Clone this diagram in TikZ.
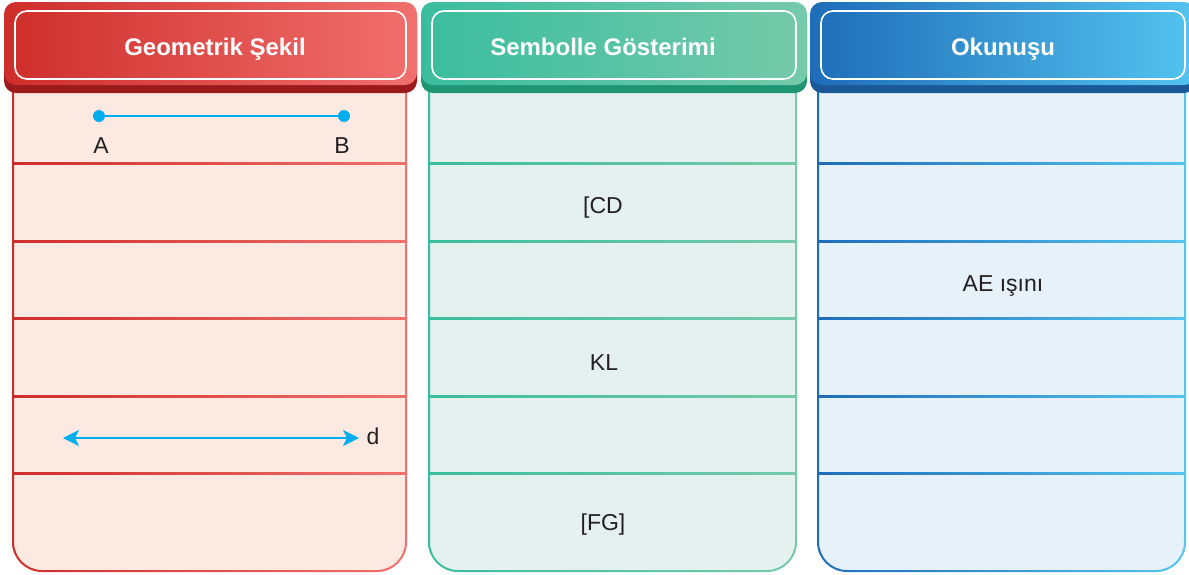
\documentclass[tikz,border=0pt]{standalone}
\usepackage{fontspec}
\setmainfont{Liberation Sans}
\usetikzlibrary{arrows.meta}

\definecolor{kirmiziA}{RGB}{206,46,42}
\definecolor{kirmiziB}{RGB}{241,112,110}
\definecolor{kirmiziG}{RGB}{155,26,28}
\definecolor{kirmiziZ}{RGB}{252,234,226}
\definecolor{yesilA}{RGB}{58,189,158}
\definecolor{yesilB}{RGB}{118,202,170}
\definecolor{yesilG}{RGB}{30,150,116}
\definecolor{yesilZ}{RGB}{228,241,238}
\definecolor{maviA}{RGB}{30,108,184}
\definecolor{maviB}{RGB}{84,196,240}
\definecolor{maviG}{RGB}{26,88,152}
\definecolor{maviZ}{RGB}{231,241,250}
\definecolor{cizgi}{RGB}{0,174,239}
\definecolor{yazi}{RGB}{35,31,32}

\begin{document}
\begin{tikzpicture}[x=0.5pt,y=-0.5pt,
  baslik/.style={text=white,font=\bfseries\fontsize{12}{14}\selectfont,anchor=base},
  metin/.style={text=yazi,font=\fontsize{11.5}{13}\selectfont},
  nokta/.style={circle,fill=cizgi,inner sep=0pt,minimum size=6pt},
  dogru/.style={cizgi,line width=1pt}]
\useasboundingbox (0,0) rectangle (1189,574);
\foreach \hl/\hr/\bl/\br/\tx/\ca/\cb/\cg/\cz/\ad [count=\i] in
  {4/417/12/407/215/kirmiziA/kirmiziB/kirmiziG/kirmiziZ/{Geometrik Şekil},
   421/807/428/797/603/yesilA/yesilB/yesilG/yesilZ/{Sembolle Gösterimi},
   810/1196/817/1186/1003/maviA/maviB/maviG/maviZ/{Okunuşu}}
{
  % govde
  \fill[\cz,rounded corners=14pt] (\bl+2,40) rectangle (\br-2,570);
  \shade[even odd rule,left color=\ca,right color=\cb,rounded corners=15pt]
    (\bl,40) rectangle (\br,572) [rounded corners=14pt] (\bl+2,40) rectangle (\br-2,570);
  \foreach \y in {163,241,318,396,473}
    \shade[left color=\ca,right color=\cb] (\bl,\y-1) rectangle (\br,\y+1);
  % baslik
  \fill[\cg,rounded corners=6pt] (\hl,12) rectangle (\hr,93);
  \shade[left color=\ca,right color=\cb,rounded corners=6pt] (\hl,2) rectangle (\hr,85);
  \draw[white,line width=0.8pt,rounded corners=6pt] (\hl+11,11) rectangle (\hr-11,79);
  \node[baslik] (baslik\i) at (\tx,55) {\ad};
}

% AB dogru parcasi
\node[nokta] (A) at (99,116) {};
\node[nokta] (B) at (344,116) {};
\draw[dogru] (A) -- (B);
\node[metin] (etiketA) at (101,146) {A};
\node[metin] (etiketB) at (342,146) {B};

% d dogrusu
\coordinate (d1) at (63,438);
\coordinate (d2) at (359,438);
\draw[dogru,{Stealth[length=8pt,width=8pt,inset=2pt]}-{Stealth[length=8pt,width=8pt,inset=2pt]}] (d1) -- (d2);
\node[metin] (etiketd) at (373,436) {d};

% gosterim ve okunus
\node[metin] (cd) at (603,208) {[CD};
\node[metin] (kl) at (604,363) {KL};
\node[metin] (fg) at (603,525) {[FG]};
\node[metin] (ae) at (1003,286) {AE ışını};
\end{tikzpicture}
\end{document}
